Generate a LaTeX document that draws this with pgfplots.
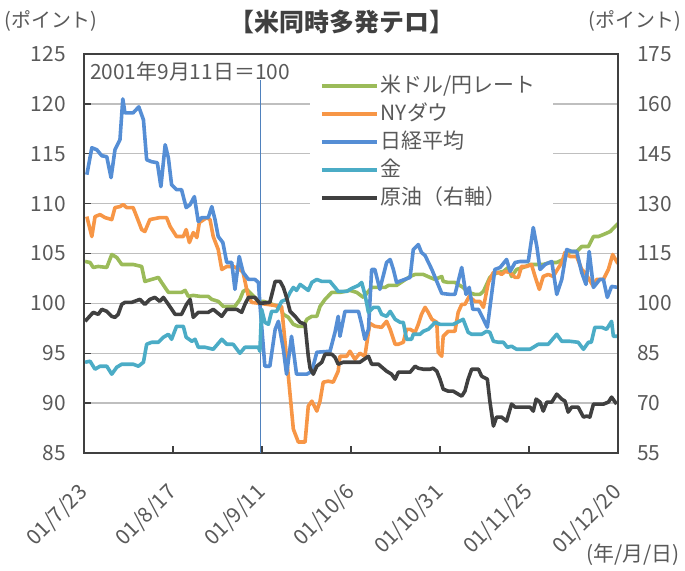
\documentclass[border=0pt]{standalone}
\usepackage{fontspec}
\setmainfont{Noto Sans CJK JP}
\usepackage{pgfplots}
\pgfplotsset{compat=1.18}
\definecolor{cGreen}{HTML}{9BBB59}
\definecolor{cOrange}{HTML}{F79646}
\definecolor{cBlue}{HTML}{558ED5}
\definecolor{cCyan}{HTML}{4BACC6}
\definecolor{cBlack}{HTML}{404040}
\definecolor{cLine}{HTML}{4F81BD}
\definecolor{cGrid}{HTML}{BFBFBF}
\definecolor{cAxis}{HTML}{404040}
\definecolor{cText}{HTML}{595959}
\newcommand{\lab}{\fontsize{21}{25}\selectfont}
\begin{document}
\begin{tikzpicture}
\useasboundingbox (0bp,0bp) rectangle (685bp,571bp);
\node[text=cText, font=\fontsize{20}{24}\selectfont] at (51bp,550bp) {(ポイント)};
\node[text=cText, font=\fontsize{20}{24}\selectfont] at (635bp,550bp) {(ポイント)};
\node[text=cAxis, font=\fontsize{25}{30}\selectfont\bfseries] at (342bp,549bp) {【米同時多発テロ】};
\node[text=cText, font=\lab] at (633bp,16bp) {(年/月/日)};
\begin{axis}[
  at={(84bp,118bp)}, anchor=south west, scale only axis,
  width=534bp, height=399bp,
  xmin=0, xmax=150, ymin=85, ymax=125,
  xtick={0,25,...,150},
  xticklabels={01/7/23,01/8/17,01/9/11,01/10/6,01/10/31,01/11/25,01/12/20},
  ytick={85,90,...,125},
  xtick pos=bottom, ytick pos=left,
  tick align=inside, major tick length=7bp,
  tick style={cAxis, line width=1.3bp},
  axis line style={cAxis, line width=1.5bp},
  ymajorgrids, grid style={cGrid, line width=1.3bp},
  /pgf/number format/assume math mode=true,
  tick label style={font=\lab, text=cText},
  yticklabel style={inner sep=0pt, xshift=-18bp},
  xticklabel style={rotate=45, anchor=east, inner sep=0pt},
  xticklabel shift=36bp,
  every axis plot/.append style={line width=3.6bp, line join=round},
  legend image code/.code={\draw[#1] (0bp,0bp) -- (55bp,0bp);},
  legend cell align=left,
  legend style={at={(0.4232,0.9586)}, anchor=north west, draw=none, fill=white,
    inner xsep=10bp, inner ysep=4bp, row sep=5bp, column sep=0bp,
    font=\lab, text=cText,
    nodes={inner sep=2bp, text height=16bp, text depth=3bp, text width=160bp}},
]
\addplot[cLine, line width=1.3bp, forget plot] coordinates {(49.6,85) (49.6,122.4)};
% USD/JPY
\addplot[cGreen] coordinates {
(0.3,104.2)(1.7,104.1)(2.6,103.6)(4.0,103.7)(6.4,103.6)(7.8,104.9)(9.2,104.6)(10.6,103.9)(13.8,103.9)(16.2,103.7)(17.1,102.2)(19.0,102.4)(20.9,102.6)(21.8,102.1)(23.7,101.1)(25.6,101.1)(27.4,101.1)(28.4,101.3)(29.3,100.7)(30.7,100.8)(32.6,100.7)(34.9,100.7)(35.9,100.4)(37.7,100.2)(39.1,99.7)(42.4,99.7)(43.8,100.4)(44.7,101.2)(45.7,101.4)(47.1,100.9)(48.5,100.4)(49.4,100.2)
(50.4,100.2)(52.2,100.0)(55.1,99.6)(56.0,98.9)(57.4,98.6)(58.8,97.9)(60.2,97.7)(61.6,97.7)(62.6,98.4)(64.0,98.7)(65.4,98.7)(66.3,99.7)(67.7,100.4)(69.6,101.1)(71.9,101.1)(74.7,101.3)(76.6,101.1)(78.5,100.6)(80.8,101.6)(82.7,101.6)(84.6,101.6)(85.5,101.8)(87.8,101.8)(91.6,102.7)(93.0,102.9)(95.3,102.9)(97.2,102.6)(98.6,102.4)(100.5,102.7)(100.9,102.2)(102.3,102.1)(104.2,102.1)(106.5,101.6)(107.9,101.1)(109.8,100.9)(111.2,100.9)(112.2,101.2)(113.1,101.9)(114.0,102.6)(115.0,102.9)(116.4,103.1)(117.8,103.2)(119.2,103.6)(120.1,102.7)(121.5,103.4)(123.4,103.6)(125.3,103.9)(129.0,103.9)(130.9,104.1)(132.8,104.1)(134.6,104.4)(136.5,105.2)(138.4,105.2)(139.8,105.7)(141.7,105.7)(143.1,106.7)(144.5,106.7)(145.9,106.9)(147.8,107.2)(148.9,107.6)(150,108.0)
};
\addlegendentry{米ドル/円レート}
% NY Dow
\addplot[cOrange] coordinates {
(0.8,108.7)(2.2,106.7)(3.1,108.7)(4.5,108.9)(5.9,108.6)(7.8,108.4)(8.7,109.6)(10.1,109.7)(11.0,109.9)(12.0,109.6)(13.8,109.6)(14.8,108.7)(16.2,107.4)(17.1,107.2)(18.5,108.4)(21.3,108.6)(23.2,108.6)(24.2,107.7)(26.0,106.7)(27.9,106.7)(28.7,107.4)(29.6,106.1)(30.7,107.1)(31.7,106.6)(32.4,108.1)(34.5,108.6)(35.4,108.4)(36.3,106.7)(37.7,105.4)(38.7,103.4)(40.1,103.7)(41.9,103.7)(43.8,103.4)(44.7,103.1)(45.7,101.4)(46.2,100.7)(47.1,100.1)(49.4,100)
(55.5,99.7)(57.4,92.7)(58.8,87.4)(60.2,86.1)(62.1,86.1)(63.0,89.7)(64.0,90.2)(65.4,89.2)(66.3,90.2)(67.2,92.1)(68.6,92.2)(70.0,92.1)(71.4,93.2)(71.9,94.7)(73.8,94.7)(74.7,95.2)(76.1,94.4)(77.5,95.0)(78.9,94.7)(79.9,97.1)(80.3,98.0)(81.7,97.7)(83.6,97.6)(85.0,98.2)(86.0,97.4)(87.4,95.9)(88.3,95.9)(89.7,96.1)(90.6,97.4)(91.6,97.4)(93.0,97.1)(93.9,97.9)(94.8,98.9)(95.8,99.6)(96.7,99.1)(97.7,98.4)(99.1,98.1)(99.5,95.1)(100.5,94.7)(100.9,96.7)(102.3,97.2)(104.2,97.2)(105.1,99.1)(106.1,99.9)(107.0,99.9)(108.2,100.7)(109.8,100.2)(111.2,100.2)(112.2,99.6)(113.6,102.1)(115.0,103.1)(116.4,103.1)(117.3,102.9)(118.3,103.2)(119.7,103.1)(121.1,102.6)(122.0,102.6)(122.9,103.7)(124.4,103.7)(125.7,103.9)(126.7,102.7)(127.9,101.4)(129.0,102.7)(130.4,102.9)(131.8,102.7)(134.2,104.1)(135.1,105.1)(136.5,104.7)(138.4,104.7)(139.8,103.4)(140.7,103.1)(143.1,101.7)(144.0,102.4)(145.9,102.4)(147.3,103.4)(148.5,104.9)(149.6,104.2)(150,104.0)
};
\addlegendentry{NYダウ}
% Nikkei
\addplot[cBlue] coordinates {
(0.8,112.9)(2.2,115.6)(3.6,115.4)(5.0,114.8)(6.4,114.7)(7.6,112.6)(8.7,115.4)(10.1,116.4)(10.9,120.5)(11.5,119.1)(13.8,119.1)(15.4,119.7)(16.7,118.4)(17.6,114.4)(19.0,114.2)(20.6,114.1)(21.6,111.7)(22.8,115.9)(23.7,114.6)(24.6,111.9)(26.0,111.4)(27.4,111.4)(28.7,109.6)(29.8,109.9)(31.0,110.7)(32.1,108.2)(33.1,108.6)(34.9,108.6)(35.9,109.7)(36.8,108.4)(37.7,106.7)(39.0,106.1)(40.1,104.1)(41.5,104.1)(42.4,101.4)(43.6,104.7)(44.7,103.1)(46.2,102.4)(48.0,102.4)(49.0,102.1)(49.4,100)
(50.8,93.7)(52.2,93.7)(53.7,97.4)(54.6,98.2)(56.0,95.4)(56.9,92.9)(58.3,96.7)(59.7,92.9)(62.6,92.9)(64.0,93.2)(65.4,95.1)(69.1,95.2)(70.5,97.1)(71.4,98.7)(71.9,96.7)(73.3,99.2)(77.1,99.2)(78.0,97.9)(78.9,96.4)(79.9,97.4)(80.8,103.4)(81.7,103.4)(83.1,101.4)(85.0,104.1)(86.0,104.4)(86.9,103.4)(87.8,102.1)(91.6,102.6)(92.5,105.4)(93.9,105.9)(94.8,105.1)(95.8,104.8)(97.7,103.4)(100.5,101.0)(102.8,100.9)(104.2,100.9)(106.1,103.6)(107.3,100.9)(108.2,101.6)(109.2,99.4)(110.8,99.4)(112.2,98.4)(113.3,97.6)(115.4,103.4)(116.9,103.6)(118.7,104.4)(119.7,103.2)(121.1,104.1)(122.5,104.2)(124.8,104.2)(126.2,107.6)(127.2,105.7)(128.1,103.4)(129.5,103.9)(131.4,104.2)(132.8,100.9)(134.2,102.4)(135.6,105.4)(137.0,105.2)(138.4,105.2)(139.8,103.1)(141.0,101.9)(141.9,105.2)(143.1,101.6)(144.9,102.4)(145.9,102.4)(147.0,100.6)(148.2,101.7)(150,101.6)
};
\addlegendentry{日経平均}
% Gold
\addplot[cCyan] coordinates {
(0.3,94.1)(1.7,94.2)(3.1,93.4)(4.5,93.7)(6.4,93.7)(7.8,92.9)(9.2,93.6)(10.6,93.9)(13.8,93.9)(15.3,93.7)(16.7,94.1)(17.6,95.9)(19.0,96.1)(20.9,96.1)(22.3,96.6)(23.7,96.9)(24.6,96.4)(26.0,97.7)(27.9,97.7)(28.7,96.6)(30.3,96.2)(31.2,96.4)(32.1,95.6)(34.0,95.6)(36.3,95.4)(38.7,96.4)(40.1,95.9)(41.9,95.9)(43.8,95.0)(45.2,95.6)(49.0,95.6)(49.4,95.2)(49.9,99.4)(50.8,98.1)(51.8,97.9)(52.7,99.2)(54.1,99.2)(55.5,100.2)(56.9,100.4)(57.9,101.1)(58.8,101.6)(59.7,101.3)(60.7,101.9)(63.0,101.3)(64.0,102.1)(65.4,102.4)(66.8,102.2)(69.1,102.2)(70.5,101.6)(71.4,101.2)(73.8,101.2)(75.2,101.5)(77.1,101.8)(78.0,102.1)(78.9,100.9)(79.9,99.1)(81.3,99.6)(82.7,99.6)(83.6,98.9)(85.0,98.7)(86.0,99.2)(87.4,98.4)(88.8,98.1)(89.7,98.1)(90.6,96.4)(92.0,96.4)(92.5,96.9)(94.4,96.9)(95.3,97.2)(96.7,97.4)(98.1,97.9)(98.6,98.1)(100.0,97.9)(103.7,97.9)(106.5,98.4)(107.9,97.1)(108.9,96.9)(111.7,96.9)(113.1,97.2)(114.0,97.1)(115.0,96.2)(116.4,96.1)(117.8,96.1)(118.9,95.6)(120.1,95.7)(121.5,95.4)(125.3,95.4)(127.6,95.9)(130.4,95.9)(132.8,96.9)(134.2,96.2)(136.5,96.2)(138.8,96.1)(140.3,95.4)(141.7,96.1)(142.5,96.1)(143.5,97.6)(145.4,97.6)(146.8,97.4)(148.2,98.2)(148.7,96.7)(150,96.7)
};
\addlegendentry{金}
\addlegendimage{cBlack, line width=3.6bp}
\addlegendentry{原油（右軸）}
\node[anchor=west, inner sep=0pt, font=\lab, text=cText] at (rel axis cs:0.011,0.957) {2001年9月11日＝100};
\end{axis}
\begin{axis}[
  at={(84bp,118bp)}, anchor=south west, scale only axis,
  width=534bp, height=399bp,
  xmin=0, xmax=150, ymin=55, ymax=175,
  ytick={55,70,...,175},
  axis x line=none, axis y line*=right,
  major tick length=0pt,
  axis line style={cAxis, line width=1.5bp},
  /pgf/number format/assume math mode=true,
  tick label style={font=\lab, text=cText},
  yticklabel style={inner sep=0pt, xshift=19bp},
]
\addplot[cBlack, line width=3.6bp, line join=round] coordinates {
(0.3,94.6)(2.6,97.3)(4.0,96.7)(5.0,98.2)(6.4,97.6)(7.8,96.1)(8.7,95.8)(9.6,96.7)(10.6,99.7)(11.5,100.3)(13.4,100.3)(15.7,101.2)(17.1,99.7)(18.5,101.2)(19.9,101.8)(21.3,100.6)(22.3,101.8)(23.7,99.7)(25.6,96.7)(27.4,96.7)(28.8,99.7)(29.8,101.2)(30.7,95.8)(32.1,97.3)(34.9,97.3)(36.3,98.2)(38.7,96.1)(40.1,98.2)(42.9,98.2)(44.3,97.3)(45.2,99.7)(46.2,101.8)(48.0,101.8)(49.4,100)(52.2,100.3)(53.7,106.6)(55.1,106.6)(56.0,104.8)(56.9,101.8)(57.9,97.6)(59.3,96.1)(60.7,94.3)(62.1,93.7)(63.0,84.1)(63.5,80.5)(64.4,78.7)(65.4,81.1)(66.8,82.3)(67.7,84.7)(69.6,84.7)(70.5,83.8)(71.4,81.7)(72.8,82.3)(77.5,82.3)(79.9,84.1)(80.8,81.7)(82.7,81.7)(85.0,79.6)(86.4,78.7)(87.4,77.2)(88.3,79.3)(91.6,79.3)(93.0,81.1)(93.9,80.5)(95.3,80.2)(97.2,80.2)(98.1,80.5)(99.1,79.6)(100.0,77.2)(100.9,74.2)(102.3,73.6)(103.7,73.6)(105.1,72.7)(106.1,72.1)(107.0,73.6)(107.9,77.2)(108.9,80.2)(110.8,80.2)(111.7,78.1)(113.3,77.2)(114.0,70.6)(115.0,63.1)(115.9,65.8)(117.3,65.8)(118.7,64.6)(120.1,69.7)(121.1,68.8)(122.9,68.8)(125.3,68.8)(126.2,67.6)(127.0,71.2)(128.1,70.3)(129.0,67.6)(130.0,70.3)(131.4,70.3)(132.8,72.7)(134.2,71.2)(135.1,70.6)(136.0,67.3)(137.0,68.8)(138.8,68.8)(140.3,65.8)(141.2,66.1)(142.1,65.8)(143.1,69.7)(144.5,69.7)(145.9,69.7)(147.3,70.3)(148.2,71.8)(149.6,69.7)
};
\end{axis}
\end{tikzpicture}
\end{document}
